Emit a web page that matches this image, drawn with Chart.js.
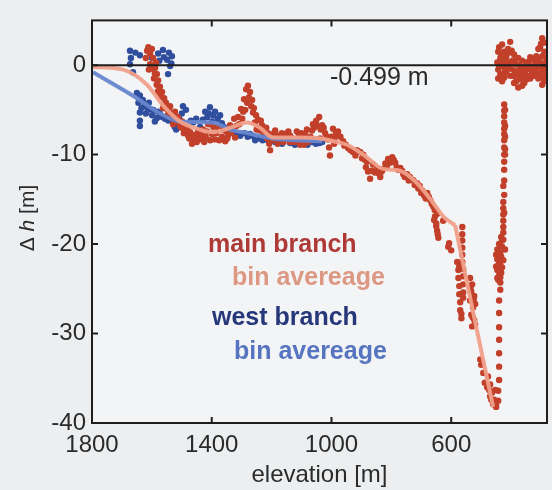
<!DOCTYPE html>
<html>
<head>
<meta charset="utf-8">
<script src="https://cdn.jsdelivr.net/npm/chart.js@4.4.1/dist/chart.umd.min.js"></script>
<style>
  html, body { margin: 0; padding: 0; background: #eceef0; }
  #wrap { width: 552px; height: 490px; }
</style>
</head>
<body>
<div id="wrap"><canvas id="chart" width="552" height="490"></canvas></div>
<script>
// elevation [m], delta h [m]
const mainBranch = [
  [1616, 1.6], [1606, 1.3], [1596, 0.8], [1606, 0.1], [1589, -0.3], [1583, -1.0], [1579, -1.7],
  [1573, -2.4], [1566, -3.0], [1559, -3.7], [1553, -4.2], [1539, -4.6], [1523, -5.2], [1513, -5.8],
  [1499, -6.3], [1486, -6.9], [1472, -7.5], [1456, -8.0], [1439, -8.3], [1533, -5.9], [1506, -6.8],
  [1479, -7.9], [1459, -8.5], [1610, -0.5], [1593, -1.5], [1586, 0.3], [1576, -3.2], [1563, -4.8],
  [1546, -5.5], [1529, -6.6], [1493, -7.6], [1466, -8.8], [1446, -7.4],
  [1620, 0.8], [1612, 2.0], [1600, 1.8], [1598, -0.4], [1590, -0.9], [1584, -2.2], [1580, -2.9],
  [1570, -3.6], [1560, -4.4], [1550, -4.9], [1543, -5.1], [1536, -5.4], [1526, -5.7], [1518, -6.2],
  [1510, -6.4], [1502, -7.0], [1490, -7.3], [1482, -7.0], [1475, -8.2], [1462, -7.8], [1450, -8.6],
  [1443, -7.9],
  [1429, -7.2], [1412, -6.6], [1399, -7.7], [1382, -6.9], [1366, -8.0], [1352, -7.4], [1339, -6.7],
  [1325, -6.0], [1312, -5.8], [1302, -4.9], [1292, -3.8], [1285, -2.7], [1279, -2.3], [1272, -3.0],
  [1265, -3.9], [1259, -4.8], [1252, -5.6], [1245, -6.1], [1232, -6.7], [1218, -7.0], [1212, -7.6],
  [1205, -9.5], [1198, -8.4], [1185, -7.8], [1172, -8.2], [1155, -7.7], [1138, -7.9], [1122, -8.6],
  [1105, -8.2], [1088, -7.7], [1078, -8.6], [1065, -7.3], [1051, -6.2], [1041, -5.8], [1031, -6.7],
  [1021, -7.6], [1011, -8.3], [1005, -10.1], [991, -8.8], [978, -7.4],
  [1389, -8.3], [1355, -8.5], [1322, -8.1], [1239, -7.3], [1188, -7.3], [1138, -8.6], [1105, -8.9],
  [1038, -8.2], [1295, -5.2], [1282, -4.2], [1262, -5.3], [1420, -8.0], [1345, -7.8], [1160, -8.6],
  [1095, -8.4], [1058, -7.0], [1110, -7.6], [1180, -8.8], [1250, -7.2], [1225, -7.8],
  [1435, -7.8], [1425, -8.6], [1415, -7.4], [1405, -8.4], [1395, -6.9], [1385, -7.6], [1375, -8.4],
  [1362, -7.2], [1348, -8.2], [1335, -7.6], [1318, -6.8], [1308, -6.6], [1298, -6.0], [1288, -5.0],
  [1276, -3.6], [1268, -4.6], [1256, -6.4], [1242, -7.0], [1236, -6.2], [1228, -7.4], [1215, -8.2],
  [1208, -8.8], [1192, -7.6], [1178, -8.0], [1166, -7.6], [1150, -8.2], [1144, -7.4], [1130, -8.2],
  [1116, -7.4], [1100, -7.6], [1092, -8.9], [1082, -7.2], [1070, -8.0], [1062, -6.6], [1046, -6.8],
  [1036, -7.2], [1026, -7.0], [1016, -8.0], [1000, -8.0], [1008, -9.2],
  [995, -7.1], [978, -7.8], [961, -8.5], [944, -9.3], [928, -9.7], [904, -9.7], [894, -10.0],
  [881, -10.8], [878, -11.9], [871, -12.7], [861, -11.1], [847, -11.6], [837, -12.5], [827, -11.6],
  [811, -10.5], [797, -10.3], [787, -10.9], [777, -11.7], [764, -11.8], [747, -12.2], [730, -12.8],
  [714, -13.2], [697, -14.0], [680, -14.3], [670, -15.1], [660, -15.8], [647, -16.6], [627, -17.4],
  [985, -7.5], [952, -8.9], [915, -9.5], [888, -10.6], [855, -12.0], [820, -11.0], [804, -10.9],
  [770, -11.5], [755, -12.5], [738, -12.5], [722, -13.4], [705, -13.5], [690, -14.6],
  [990, -8.2], [970, -8.0], [957, -9.0], [936, -9.5], [920, -10.1], [898, -10.4], [885, -11.4],
  [866, -11.8], [842, -12.1], [832, -11.9], [815, -11.3], [792, -10.6], [782, -11.4], [760, -12.2],
  [742, -12.9], [726, -12.9], [710, -13.8], [700, -14.3], [685, -14.9], [675, -14.7], [665, -15.5],
  [655, -16.2],
  [654, -16.9], [650, -17.7], [647, -18.5], [643, -19.3], [607, -19.9], [600, -20.7],
  [650, -18.0], [645, -18.9], [657, -17.3], [610, -20.3],
  [563, -18.1], [563, -18.9], [563, -19.6], [563, -20.4], [563, -21.2], [563, -22.0], [560, -22.8],
  [560, -23.6], [560, -24.5], [560, -25.4], [560, -26.0],
  [580, -22.0], [576, -22.9], [576, -23.8], [573, -24.7], [573, -25.6], [570, -26.5], [570, -27.4],
  [566, -28.3], [573, -22.5], [566, -27.8],
  [537, -23.8], [530, -24.5], [533, -25.3], [523, -25.8], [537, -26.3], [527, -27.1], [533, -27.9],
  [523, -28.5], [530, -29.2], [520, -26.7], [535, -24.8], [525, -26.2], [528, -28.2], [520, -29.0],
  [503, -32.9], [500, -33.5], [493, -34.4], [477, -34.8], [470, -35.7], [463, -36.6], [457, -37.4],
  [450, -38.0], [466, -37.4], [473, -36.3], [453, -36.3], [488, -35.5], [460, -37.9], [480, -36.0],
  [470, -37.0],
  [423, -4.4], [423, -5.1], [423, -5.7], [423, -6.4], [423, -7.1], [423, -7.7], [423, -8.4],
  [423, -9.2], [423, -10.0], [423, -10.8], [423, -11.7], [423, -12.9], [423, -14.5], [426, -15.3],
  [426, -16.0], [426, -16.7], [426, -17.4], [426, -18.1], [426, -18.7], [430, -19.6], [430, -20.3],
  [436, -21.0], [436, -21.6], [436, -22.3], [436, -23.0], [436, -23.7], [436, -24.3], [436, -25.1],
  [440, -26.3], [440, -27.7], [440, -29.3], [440, -30.7], [440, -32.2], [440, -33.7], [440, -35.2],
  [443, -36.4], [443, -37.5], [450, -38.2],
  [446, -20.6], [446, -21.7], [446, -22.9], [450, -21.2], [420, -20.6], [420, -10.0], [420, -9.4],
  [443, -24.0], [450, -22.5], [426, -19.5],
  [433, -19.2], [440, -20.0], [433, -21.4], [440, -22.0], [433, -23.2], [440, -23.5], [446, -23.8],
  [430, -22.6], [426, -21.8], [420, -5.0], [420, -6.8], [420, -8.0], [426, -13.5], [423, -16.5],
  [443, 1.5], [443, -0.5], [443, -1.5], [430, 2.3], [430, 0.5], [430, -1.8], [416, 1.0], [416, -0.8],
  [403, 2.6], [403, 0.2], [403, -1.2], [390, 1.2], [390, -0.6], [390, -2.0], [376, 0.8], [376, -1.4],
  [376, -2.5], [363, 0.5], [363, -1.0], [363, -2.3], [349, 0.3], [349, -0.5], [349, -1.6], [336, 0.9],
  [336, -0.4], [336, -1.5], [323, 0.6], [323, -0.7], [323, -1.2], [309, 1.8], [309, 0.2], [309, -1.5],
  [296, 3.0], [296, 1.0], [296, -0.5], [296, -2.2], [283, 2.5], [283, 0.8], [283, -1.0],
  [436, 0.8], [436, -1.0], [423, 1.5], [423, -0.2], [423, -1.4], [410, -0.3], [396, 0.5], [383, 0.1],
  [383, -1.8], [370, -0.5], [356, -1.0], [356, -2.0], [343, 0.1], [330, -0.9], [316, 1.0], [316, -0.3],
  [303, 2.0], [303, -1.0], [289, 1.5], [289, -1.8],
  [446, 0.3], [440, -0.2], [433, 1.0], [427, 0.2], [420, -0.6], [413, 0.4], [406, 1.4], [400, -0.4],
  [393, -1.2], [386, 0.6], [380, -0.9], [373, 0.0], [366, -1.6], [360, -0.3], [353, -0.8], [346, -1.2],
  [340, 0.4], [333, -0.2], [326, -0.5], [320, 0.0], [313, -0.9], [306, 0.6], [300, -0.2], [293, 0.2],
  [286, -0.4], [280, 0.4], [440, 2.0], [426, -1.0], [410, 1.8], [398, 1.6], [300, 2.4], [293, -1.4]
];

const westBranch = [
  [1673, 1.6], [1640, 1.1], [1673, 0.1], [1663, -0.8], [1599, 0.8], [1579, 1.3], [1563, 1.7],
  [1549, 0.6], [1533, 1.0], [1539, -0.1], [1546, -1.0], [1650, -3.1], [1640, -3.4], [1630, -3.9],
  [1616, -4.4], [1640, -5.3], [1640, -6.2], [1640, -6.8], [1613, -5.0], [1599, -5.6], [1583, -5.9],
  [1573, -5.4], [1539, -5.7], [1529, -6.5], [1519, -7.2], [1496, -4.6], [1486, -5.0], [1462, -6.4],
  [1439, -6.9], [1422, -5.2], [1406, -4.7], [1389, -5.2], [1372, -5.6], [1399, -6.3], [1366, -6.5],
  [1329, -7.4], [1305, -7.9], [1272, -7.7], [1239, -8.2], [1205, -8.0], [1172, -8.5], [1138, -8.7],
  [1105, -8.3], [1088, -8.8], [1065, -8.6], [1045, -8.4], [1031, -8.6],
  [1625, -4.6], [1606, -4.9], [1590, -6.3], [1556, -6.0], [1509, -6.0], [1452, -6.0], [1415, -5.8],
  [1380, -6.0], [1350, -7.1], [1290, -7.6], [1255, -8.4], [1222, -7.9], [1188, -8.6], [1155, -8.2],
  [1122, -8.9], [1075, -8.2], [1052, -8.8],
  [1670, 0.8], [1655, 1.4], [1575, 0.5], [1560, 0.9], [1543, 1.4], [1535, 0.2], [1645, -4.2],
  [1635, -4.8], [1620, -5.4], [1610, -4.2], [1595, -5.0], [1580, -5.2], [1565, -5.8], [1545, -6.2],
  [1524, -6.9], [1500, -5.4], [1470, -6.2], [1430, -6.1], [1410, -5.4], [1395, -5.6], [1360, -6.9],
  [1340, -7.0], [1315, -7.8], [1280, -8.0], [1265, -7.9], [1230, -8.4], [1212, -8.4], [1195, -8.2],
  [1165, -8.8], [1130, -8.4], [1098, -8.6], [1080, -8.9], [1060, -8.4], [1040, -8.7]
];

const mainBinElev = [1797, 1696, 1616, 1563, 1506, 1449, 1396, 1329, 1282, 1239, 1195, 1105, 1038,
  995, 948, 894, 827, 771, 714, 660, 627, 587, 520, 460];
const mainBinDh = [-0.2, -0.5, -2.2, -4.5, -6.3, -7.1, -7.5, -6.9, -6.4, -7.0, -8.1, -8.1, -8.2,
  -8.5, -8.9, -10.0, -11.6, -11.8, -13.2, -15.4, -16.9, -17.9, -28.7, -38.2];
const mainBinBreak = 21; // bin curve turns sharply at 587 m, straight below that

const westBinElev = [1797, 1650, 1583, 1506, 1396, 1339, 1282, 1195, 1115, 1031];
const westBinDh = [-0.8, -3.7, -5.2, -6.3, -6.4, -7.2, -7.6, -8.2, -8.4, -8.5];

const xTicks = [1800, 1400, 1000, 600];
const yTicks = [0, -10, -20, -30, -40];
const meanLabel = "-0.499 m";
const legendLabels = ["main branch", "bin avereage", "west branch", "bin avereage"];

const FONT = "'Liberation Sans', Arial, sans-serif";

function toPoints(pairs) {
  return pairs.map((p) => ({ x: p[0], y: p[1] }));
}
function zip(xs, ys) {
  return xs.map((x, i) => ({ x: x, y: ys[i] }));
}

const overlay = {
  id: "overlay",
  beforeDatasetsDraw(chart) {
    const { ctx, chartArea: a } = chart;
    ctx.save();
    ctx.fillStyle = "#f3f4f6";
    ctx.fillRect(a.left, a.top, a.width, a.height);
    ctx.restore();
  },
  afterDatasetsDraw(chart) {
    const { ctx, chartArea: a, scales } = chart;
    const y0 = scales.y.getPixelForValue(0);
    ctx.save();
    ctx.strokeStyle = "#1e1e1e";
    ctx.lineWidth = 2;
    ctx.beginPath();
    ctx.moveTo(a.left, y0);
    ctx.lineTo(a.right, y0);
    ctx.stroke();

    // box + inward ticks
    ctx.strokeRect(a.left, a.top, a.width, a.height);
    xTicks.forEach((v) => {
      const px = scales.x.getPixelForValue(v);
      ctx.beginPath();
      ctx.moveTo(px, a.bottom);
      ctx.lineTo(px, a.bottom - 6);
      ctx.moveTo(px, a.top);
      ctx.lineTo(px, a.top + 6);
      ctx.stroke();
    });
    yTicks.forEach((v) => {
      const py = scales.y.getPixelForValue(v);
      ctx.beginPath();
      ctx.moveTo(a.left, py);
      ctx.lineTo(a.left + 6, py);
      ctx.moveTo(a.right, py);
      ctx.lineTo(a.right - 6, py);
      ctx.stroke();
    });

    ctx.textBaseline = "middle";
    ctx.textAlign = "left";
    ctx.fillStyle = "#2a2a2a";
    ctx.font = "25px " + FONT;
    ctx.fillText(meanLabel, 330, 78);

    const colors = ["#ad3a36", "#dc9882", "#27387a", "#5674c0"];
    const pos = [[208, 245], [232, 278], [212, 318], [234, 352]];
    ctx.font = "bold 25px " + FONT;
    legendLabels.forEach((t, i) => {
      ctx.fillStyle = colors[i];
      ctx.fillText(t, pos[i][0], pos[i][1]);
    });

    // y title: "Δ h [m]" with italic h
    ctx.translate(28, 218);
    ctx.rotate(-Math.PI / 2);
    ctx.fillStyle = "#2a2a2a";
    const parts = [["Δ ", "21px "], ["h", "italic 21px "], [" [m]", "21px "]];
    let w = 0;
    parts.forEach((p) => { ctx.font = p[1] + FONT; w += ctx.measureText(p[0]).width; });
    let x = -w / 2;
    parts.forEach((p) => {
      ctx.font = p[1] + FONT;
      ctx.fillText(p[0], x, 0);
      x += ctx.measureText(p[0]).width;
    });
    ctx.restore();
  },
};

const mainBin = zip(mainBinElev, mainBinDh);
const salmon = "rgba(240, 160, 138, 0.95)";

new Chart(document.getElementById("chart"), {
  type: "scatter",
  data: {
    datasets: [
      {
        label: "bin avereage (west)",
        data: zip(westBinElev, westBinDh),
        showLine: true,
        cubicInterpolationMode: "monotone",
        borderColor: "rgba(104, 134, 206, 0.95)",
        borderWidth: 4,
        pointRadius: 0,
        order: 1,
      },
      {
        label: "bin avereage (main)",
        data: mainBin.slice(0, mainBinBreak + 1),
        showLine: true,
        cubicInterpolationMode: "monotone",
        borderColor: salmon,
        borderWidth: 4,
        pointRadius: 0,
        order: 0,
      },
      {
        label: "bin avereage (main, lower)",
        data: mainBin.slice(mainBinBreak),
        showLine: true,
        borderColor: salmon,
        borderWidth: 4,
        borderJoinStyle: "round",
        pointRadius: 0,
        order: 0,
      },
      {
        label: "west branch",
        data: toPoints(westBranch),
        backgroundColor: "rgb(48, 78, 158)",
        borderWidth: 0,
        pointRadius: 3.2,
        order: 3,
      },
      {
        label: "main branch",
        data: toPoints(mainBranch),
        backgroundColor: "rgb(194, 64, 42)",
        borderWidth: 0,
        pointRadius: 3.2,
        order: 2,
      },
    ],
  },
  options: {
    responsive: false,
    animation: false,
    layout: { padding: { top: 18, right: 5, left: 0, bottom: 0 } },
    plugins: { legend: { display: false }, tooltip: { enabled: false } },
    scales: {
      x: {
        type: "linear",
        reverse: true,
        min: 280,
        max: 1800,
        afterFit(s) { s.height = 67; },
        afterBuildTicks(s) { s.ticks = xTicks.map((v) => ({ value: v })); },
        grid: { display: false, drawTicks: false },
        border: { display: false },
        ticks: {
          color: "#2a2a2a",
          font: { size: 24, family: FONT },
          padding: 8,
          maxRotation: 0,
          autoSkip: false,
          callback: (v) => String(v),
        },
        title: {
          display: true,
          text: "elevation [m]",
          color: "#2a2a2a",
          font: { size: 24, family: FONT },
          padding: { top: 0, bottom: 0 },
        },
      },
      y: {
        min: -40,
        max: 5,
        afterFit(s) { s.width = 92; },
        afterBuildTicks(s) { s.ticks = yTicks.map((v) => ({ value: v })); },
        grid: { display: false, drawTicks: false },
        border: { display: false },
        ticks: {
          color: "#2a2a2a",
          font: { size: 24, family: FONT },
          padding: 6,
          autoSkip: false,
          callback: (v) => String(v),
        },
      },
    },
  },
  plugins: [overlay],
});
</script>
</body>
</html>
